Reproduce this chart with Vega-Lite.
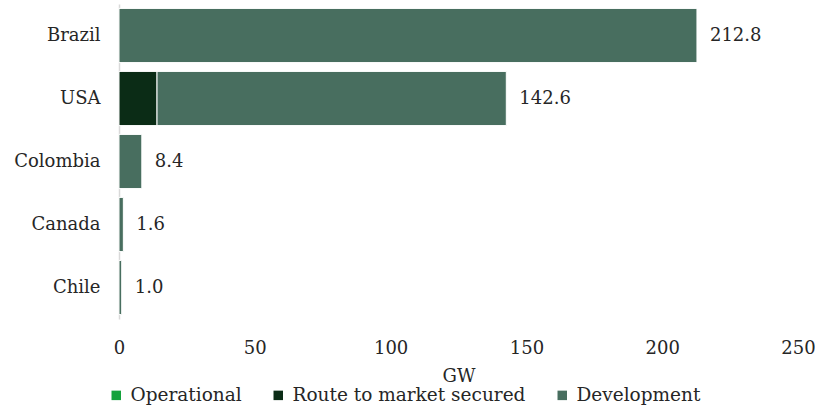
{
  "$schema": "https://vega.github.io/schema/vega-lite/v6.json",
  "autosize": "none",
  "width": 679,
  "height": 315,
  "padding": {"left": 119, "top": 4, "right": 17, "bottom": 89},
  "background": "white",
  "config": {
    "view": {"stroke": null},
    "font": "DejaVu Serif"
  },
  "data": {
    "values": [
      {"country": "Brazil", "status": "Development", "gw": 212.8, "ord": 2},
      {"country": "USA", "status": "Route to market secured", "gw": 14.0, "ord": 1},
      {"country": "USA", "status": "Development", "gw": 128.6, "ord": 2},
      {"country": "Colombia", "status": "Development", "gw": 8.4, "ord": 2},
      {"country": "Canada", "status": "Development", "gw": 1.6, "ord": 2},
      {"country": "Chile", "status": "Development", "gw": 1.0, "ord": 2}
    ]
  },
  "encoding": {
    "y": {
      "field": "country",
      "type": "nominal",
      "sort": ["Brazil", "USA", "Colombia", "Canada", "Chile"],
      "scale": {"paddingInner": 0.14, "paddingOuter": 0.07},
      "axis": {
        "title": null,
        "ticks": false,
        "domain": true,
        "domainColor": "#d9d9d9",
        "domainWidth": 1.5,
        "labelFont": "DejaVu Serif",
        "labelFontSize": 18,
        "labelColor": "#262626",
        "labelPadding": 19
      }
    }
  },
  "layer": [
    {
      "mark": {"type": "bar", "stroke": "white", "strokeWidth": 1},
      "encoding": {
        "x": {
          "field": "gw",
          "type": "quantitative",
          "stack": "zero",
          "scale": {"domain": [0, 250], "nice": false},
          "axis": {
            "values": [0, 50, 100, 150, 200, 250],
            "title": "GW",
            "titleFont": "DejaVu Serif",
            "titleFontSize": 18,
            "titleFontWeight": "normal",
            "titleColor": "#262626",
            "titleBaseline": "alphabetic",
            "titleY": 62,
            "grid": false,
            "ticks": false,
            "domain": false,
            "labelFlush": false,
            "labelFont": "DejaVu Serif",
            "labelFontSize": 18,
            "labelColor": "#262626",
            "labelPadding": 20
          }
        },
        "color": {
          "field": "status",
          "type": "nominal",
          "scale": {
            "domain": ["Operational", "Route to market secured", "Development"],
            "range": ["#14a23c", "#0b2c16", "#486e5f"]
          },
          "legend": {
            "title": null,
            "orient": "none",
            "direction": "horizontal",
            "legendX": -12,
            "legendY": 382,
            "symbolType": "square",
            "symbolSize": 90,
            "symbolStrokeWidth": 0,
            "labelFont": "DejaVu Serif",
            "labelFontSize": 18.5,
            "labelLimit": 400,
            "labelColor": "#262626",
            "labelOffset": 5,
            "columnPadding": 27
          }
        },
        "order": {"field": "ord", "type": "quantitative"}
      }
    },
    {
      "mark": {"type": "text", "align": "left", "baseline": "middle", "dx": 13, "fontSize": 18, "color": "#262626", "font": "DejaVu Serif"},
      "encoding": {
        "x": {"aggregate": "sum", "field": "gw", "type": "quantitative"},
        "text": {"aggregate": "sum", "field": "gw", "type": "quantitative", "format": ".1f"}
      }
    }
  ]
}
